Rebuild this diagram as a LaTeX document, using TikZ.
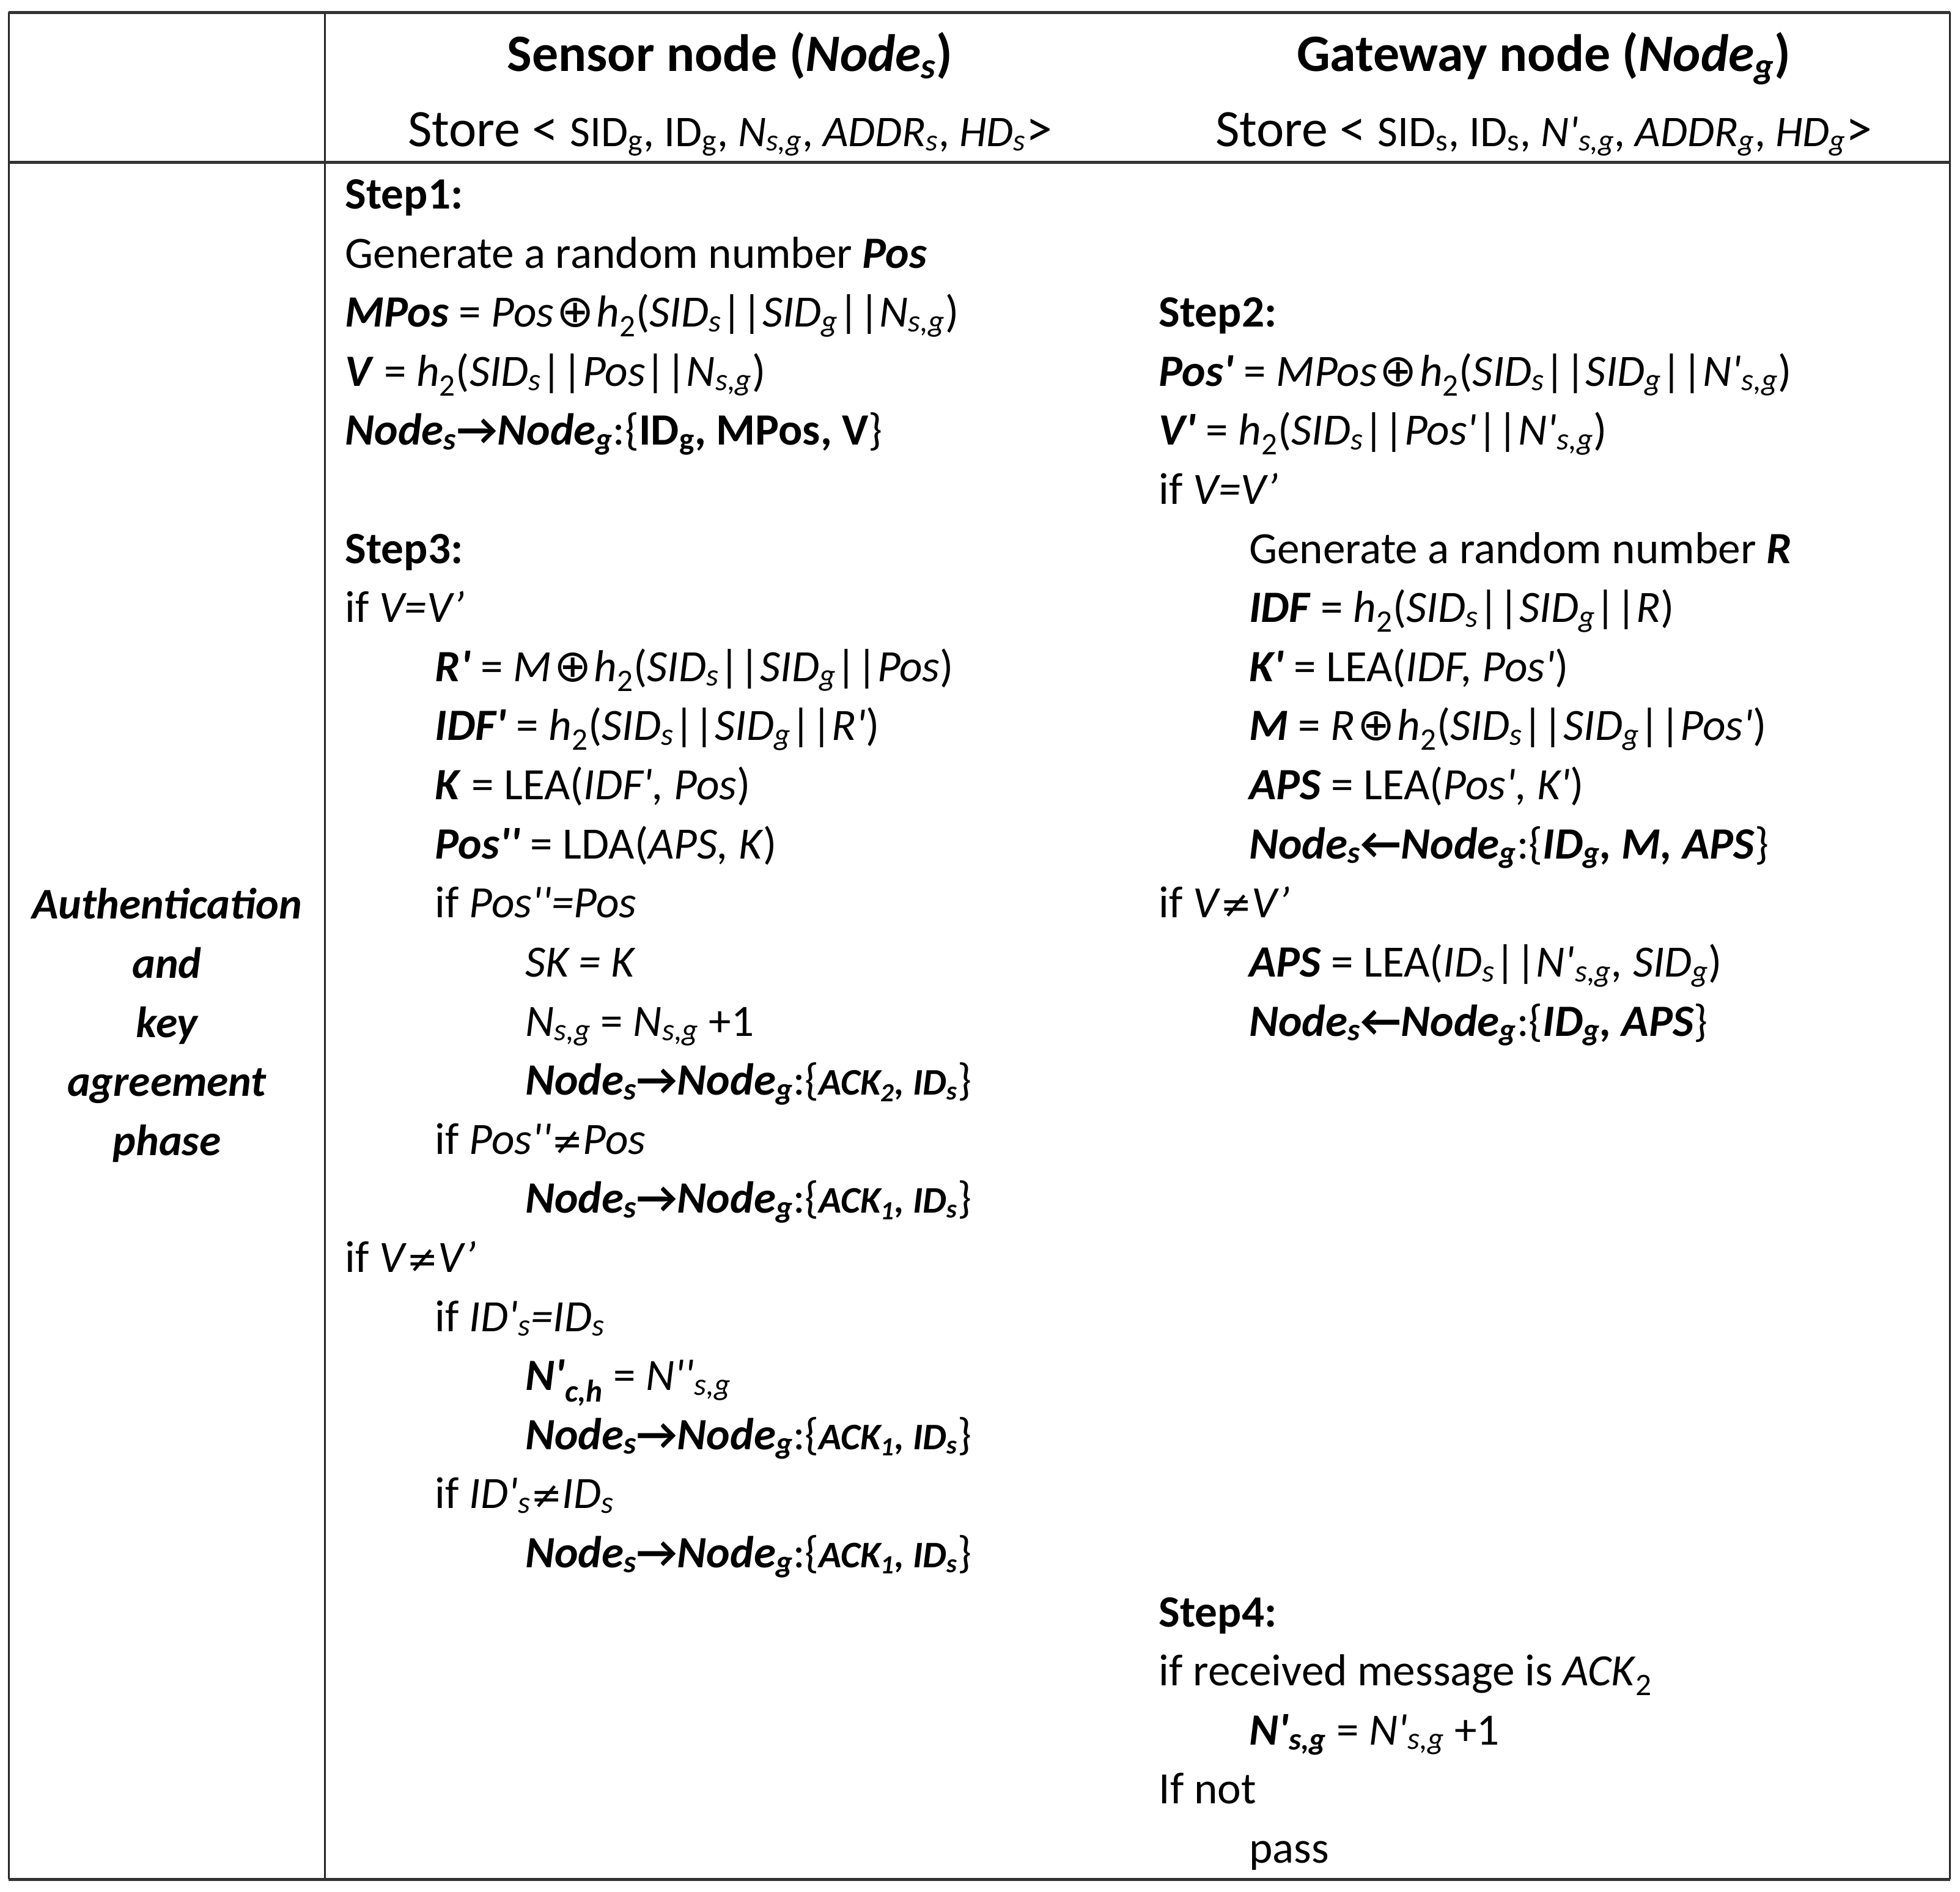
\documentclass[tikz,border=0pt]{standalone}
\usepackage{fontspec}
\setmainfont{Carlito}
\newfontfamily\symfont{DejaVu Sans}

% small helpers for the formulas
\newcommand{\hh}{\textit{h}\textsubscript{2}}
\newcommand{\xor}{\hspace{2pt}{\symfont ⊕}\hspace{2pt}}
\newcommand{\nq}{{\symfont\itshape\fontsize{30}{36}\selectfont ≠}}
\newcommand{\pr}{\textquotesingle}
\newcommand{\sm}{\fontsize{35}{40}\selectfont}
\newcommand{\ack}[1]{{\fontsize{30}{36}\selectfont\bfseries\itshape #1}}
\newcommand{\tog}[1]{\textbf{\textit{Node\textsubscript{s}}→\textit{Node\textsubscript{g}}}:\{#1\}}
\newcommand{\tos}[1]{\textbf{\textit{Node\textsubscript{s}}←\textit{Node\textsubscript{g}}}:\{#1\}}

\begin{document}
\begin{tikzpicture}[x=1pt,y=-1pt,
		txt/.style={anchor=base west, inner sep=0pt, font=\fontsize{35.8}{42}\selectfont},
		head/.style={anchor=base, inner sep=0pt, font=\fontsize{42}{50}\selectfont\bfseries},
		store/.style={anchor=base, inner sep=0pt, font=\fontsize{42}{48}\selectfont},
		phase/.style={align=center, inner sep=0pt, font=\fontsize{35}{47.25}\selectfont\bfseries\itshape},
		rule/.style={line width=2.5pt, black!80},
		grid/.style={line width=1.3pt, black!85}
		]
		\useasboundingbox (0,0) rectangle (1568,1513);

		% table
		\draw[grid] (7,10) -- (7,1503) (260,10) -- (260,1503) (1560,10) -- (1560,1503);
		\draw[rule] (7,10) -- (1560,10) (7,130) -- (1560,130) (7,1503) -- (1560,1503);

		% header row
		\node[head] (hs) at (584,57) {Sensor node (\textit{Node\textsubscript{s}})};
		\node[store] (ss) at (584,117) {Store < {\sm SID\textsubscript{g}, ID\textsubscript{g}, \textit{N\textsubscript{s,g}}, \textit{ADDR\textsubscript{s}}, \textit{HD\textsubscript{s}}}>};
		\node[head] (hg) at (1235,57) {Gateway node (\textit{Node\textsubscript{g}})};
		\node[store] (sg) at (1235,117) {Store < {\sm SID\textsubscript{s}, ID\textsubscript{s}, \textit{N\pr\textsubscript{s,g}}, \textit{ADDR\textsubscript{g}}, \textit{HD\textsubscript{g}}}>};

		\node[phase] (ph) at (133.5,820) {Authentication\\and\\key\\agreement\\phase};

		% sensor node
		\node[txt] (s0) at (276,167) {\textbf{Step1:}};
		\node[txt] (s1) at (276,214.25) {Generate a random number \textbf{\textit{Pos}}};
		\node[txt] (s2) at (276,261.5) {\textbf{\textit{MPos}} = \textit{Pos}\xor\hh(\textit{SID\textsubscript{s}}||\textit{SID\textsubscript{g}}||\textit{N\textsubscript{s,g}})};
		\node[txt] (s3) at (276,308.75) {\textbf{\textit{V}} = \hh(\textit{SID\textsubscript{s}}||\textit{Pos}||\textit{N\textsubscript{s,g}})};
		\node[txt] (s4) at (276,356) {\tog{\textbf{ID\textsubscript{g}, MPos, V}}};
		\node[txt] (s6) at (276,450.5) {\textbf{Step3:}};
		\node[txt] (s7) at (276,497.75) {if \textit{V=V’}};
		\node[txt] (s8) at (348,545) {\textbf{\textit{R\pr}} = \textit{M}\xor\hh(\textit{SID\textsubscript{s}}||\textit{SID\textsubscript{g}}||\textit{Pos})};
		\node[txt] (s9) at (348,592.25) {\textbf{\textit{IDF\pr}} = \hh(\textit{SID\textsubscript{s}}||\textit{SID\textsubscript{g}}||\textit{R\pr})};
		\node[txt] (s10) at (348,639.5) {\textbf{\textit{K}} = LEA(\textit{IDF\pr, Pos})};
		\node[txt] (s11) at (348,686.75) {\textbf{\textit{Pos\pr\pr}} = LDA(\textit{APS, K})};
		\node[txt] (s12) at (348,734) {if \textit{Pos\pr\pr=Pos}};
		\node[txt] (s13) at (420,781.25) {\textit{SK = K}};
		\node[txt] (s14) at (420,828.5) {\textit{N\textsubscript{s,g}} = \textit{N\textsubscript{s,g}} +1};
		\node[txt] (s15) at (420,875.75) {\tog{\ack{ACK\textsubscript{2}, ID\textsubscript{s}}}};
		\node[txt] (s16) at (348,923) {if \textit{Pos\pr\pr}\nq\textit{Pos}};
		\node[txt] (s17) at (420,970.25) {\tog{\ack{ACK\textsubscript{1}, ID\textsubscript{s}}}};
		\node[txt] (s18) at (276,1017.5) {if \textit{V}\nq\textit{V’}};
		\node[txt] (s19) at (348,1064.75) {if \textit{ID\pr\textsubscript{s}=ID\textsubscript{s}}};
		\node[txt] (s20) at (420,1112) {\textbf{\textit{N\pr\textsubscript{c,h}}} = \textit{N\pr\pr\textsubscript{s,g}}};
		\node[txt] (s21) at (420,1159.25) {\tog{\ack{ACK\textsubscript{1}, ID\textsubscript{s}}}};
		\node[txt] (s22) at (348,1206.5) {if \textit{ID\pr\textsubscript{s}}\nq\textit{ID\textsubscript{s}}};
		\node[txt] (s23) at (420,1253.75) {\tog{\ack{ACK\textsubscript{1}, ID\textsubscript{s}}}};

		% gateway node
		\node[txt] (g2) at (927,261.5) {\textbf{Step2:}};
		\node[txt] (g3) at (927,308.75) {\textbf{\textit{Pos\pr}} = \textit{MPos}\xor\hh(\textit{SID\textsubscript{s}}||\textit{SID\textsubscript{g}}||\textit{N\pr\textsubscript{s,g}})};
		\node[txt] (g4) at (927,356) {\textbf{\textit{V\pr}} = \hh(\textit{SID\textsubscript{s}}||\textit{Pos\pr}||\textit{N\pr\textsubscript{s,g}})};
		\node[txt] (g5) at (927,403.25) {if \textit{V=V’}};
		\node[txt] (g6) at (999,450.5) {Generate a random number \textbf{\textit{R}}};
		\node[txt] (g7) at (999,497.75) {\textbf{\textit{IDF}} = \hh(\textit{SID\textsubscript{s}}||\textit{SID\textsubscript{g}}||\textit{R})};
		\node[txt] (g8) at (999,545) {\textbf{\textit{K\pr}} = LEA(\textit{IDF, Pos\pr})};
		\node[txt] (g9) at (999,592.25) {\textbf{\textit{M}} = \textit{R}\xor\hh(\textit{SID\textsubscript{s}}||\textit{SID\textsubscript{g}}||\textit{Pos\pr})};
		\node[txt] (g10) at (999,639.5) {\textbf{\textit{APS}} = LEA(\textit{Pos\pr, K\pr})};
		\node[txt] (g11) at (999,686.75) {\tos{\textbf{\textit{ID\textsubscript{g}, M, APS}}}};
		\node[txt] (g12) at (927,734) {if \textit{V}\nq\textit{V’}};
		\node[txt] (g13) at (999,781.25) {\textbf{\textit{APS}} = LEA(\textit{ID\textsubscript{s}}||\textit{N\pr\textsubscript{s,g}, SID\textsubscript{g}})};
		\node[txt] (g14) at (999,828.5) {\tos{\textbf{\textit{ID\textsubscript{g}, APS}}}};
		\node[txt] (g24) at (927,1301) {\textbf{Step4:}};
		\node[txt] (g25) at (927,1348.25) {if received message is \textit{ACK}\textsubscript{2}};
		\node[txt] (g26) at (999,1395.5) {\textbf{\textit{N\pr\textsubscript{s,g}}} = \textit{N\pr\textsubscript{s,g}} +1};
		\node[txt] (g27) at (927,1442.75) {If not};
		\node[txt] (g28) at (999,1490) {pass};
	\end{tikzpicture}
\end{document}
